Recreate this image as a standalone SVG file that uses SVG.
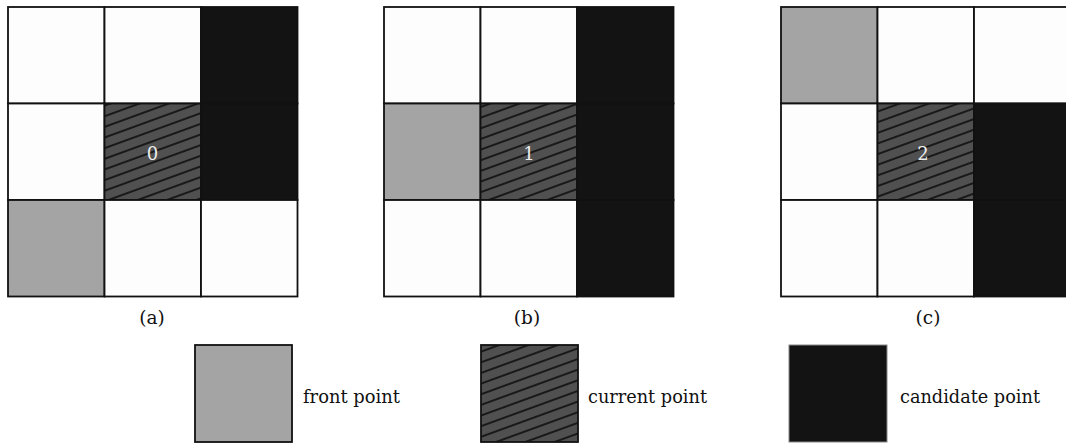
<svg xmlns="http://www.w3.org/2000/svg" width="1066" height="443" viewBox="0 0 1066 443">
<style>
.c{stroke:#111;stroke-width:1.8}
.w{fill:#fdfdfd}
.g{fill:#a4a4a4}
.b{fill:#131313}
.h{fill:url(#hatch)}
.num{font-family:"DejaVu Serif","Liberation Serif",serif;font-size:18px;fill:#ececec;text-anchor:middle}
.lab{font-family:"DejaVu Serif","Liberation Serif",serif;font-size:18.5px;fill:#111;text-anchor:middle}
.leg{font-family:"DejaVu Serif","Liberation Serif",serif;font-size:18px;fill:#111}
</style>
<defs>
<pattern id="hatch" patternUnits="userSpaceOnUse" width="10" height="10" patternTransform="rotate(-20)">
<rect width="10" height="10" fill="#505050"/>
<line x1="-1" y1="5" x2="11" y2="5" stroke="#000" stroke-width="1.4"/>
</pattern>
</defs>
<rect width="1066" height="443" fill="#ffffff"/>
<g id="grid-a">
<rect class="c w" x="8" y="7" width="96.5" height="96.5"/>
<rect class="c w" x="104.5" y="7" width="96.5" height="96.5"/>
<rect class="c b" x="201" y="7" width="96.5" height="96.5"/>
<rect class="c w" x="8" y="103.5" width="96.5" height="96.5"/>
<rect class="c h" x="104.5" y="103.5" width="96.5" height="96.5"/>
<rect class="c b" x="201" y="103.5" width="96.5" height="96.5"/>
<rect class="c g" x="8" y="200" width="96.5" height="96.5"/>
<rect class="c w" x="104.5" y="200" width="96.5" height="96.5"/>
<rect class="c w" x="201" y="200" width="96.5" height="96.5"/>
<text class="num" x="152.5" y="160">0</text>
<text class="lab" x="152" y="324">(a)</text>
</g>
<g id="grid-b">
<rect class="c w" x="384" y="7" width="96.5" height="96.5"/>
<rect class="c w" x="480.5" y="7" width="96.5" height="96.5"/>
<rect class="c b" x="577" y="7" width="96.5" height="96.5"/>
<rect class="c g" x="384" y="103.5" width="96.5" height="96.5"/>
<rect class="c h" x="480.5" y="103.5" width="96.5" height="96.5"/>
<rect class="c b" x="577" y="103.5" width="96.5" height="96.5"/>
<rect class="c w" x="384" y="200" width="96.5" height="96.5"/>
<rect class="c w" x="480.5" y="200" width="96.5" height="96.5"/>
<rect class="c b" x="577" y="200" width="96.5" height="96.5"/>
<text class="num" x="529" y="160">1</text>
<text class="lab" x="527" y="324">(b)</text>
</g>
<g id="grid-c">
<rect class="c g" x="781" y="7" width="96.5" height="96.5"/>
<rect class="c w" x="877.5" y="7" width="96.5" height="96.5"/>
<rect class="c w" x="974" y="7" width="96.5" height="96.5"/>
<rect class="c w" x="781" y="103.5" width="96.5" height="96.5"/>
<rect class="c h" x="877.5" y="103.5" width="96.5" height="96.5"/>
<rect class="c b" x="974" y="103.5" width="96.5" height="96.5"/>
<rect class="c w" x="781" y="200" width="96.5" height="96.5"/>
<rect class="c w" x="877.5" y="200" width="96.5" height="96.5"/>
<rect class="c b" x="974" y="200" width="96.5" height="96.5"/>
<text class="num" x="923" y="160">2</text>
<text class="lab" x="928" y="324">(c)</text>
</g>
<g id="legend-front">
<rect class="c g" x="195" y="345" width="97" height="97"/>
<text class="leg" x="303" y="403" textLength="97" lengthAdjust="spacingAndGlyphs">front point</text>
</g>
<g id="legend-current">
<rect class="c h" x="481" y="345" width="97" height="97"/>
<text class="leg" x="588" y="403" textLength="119" lengthAdjust="spacingAndGlyphs">current point</text>
</g>
<g id="legend-candidate">
<rect class="b" x="789" y="345" width="98" height="97" stroke="#888" stroke-width="1"/>
<text class="leg" x="900" y="403" textLength="140" lengthAdjust="spacingAndGlyphs">candidate point</text>
</g>
<g id="connectors"></g>
</svg>
